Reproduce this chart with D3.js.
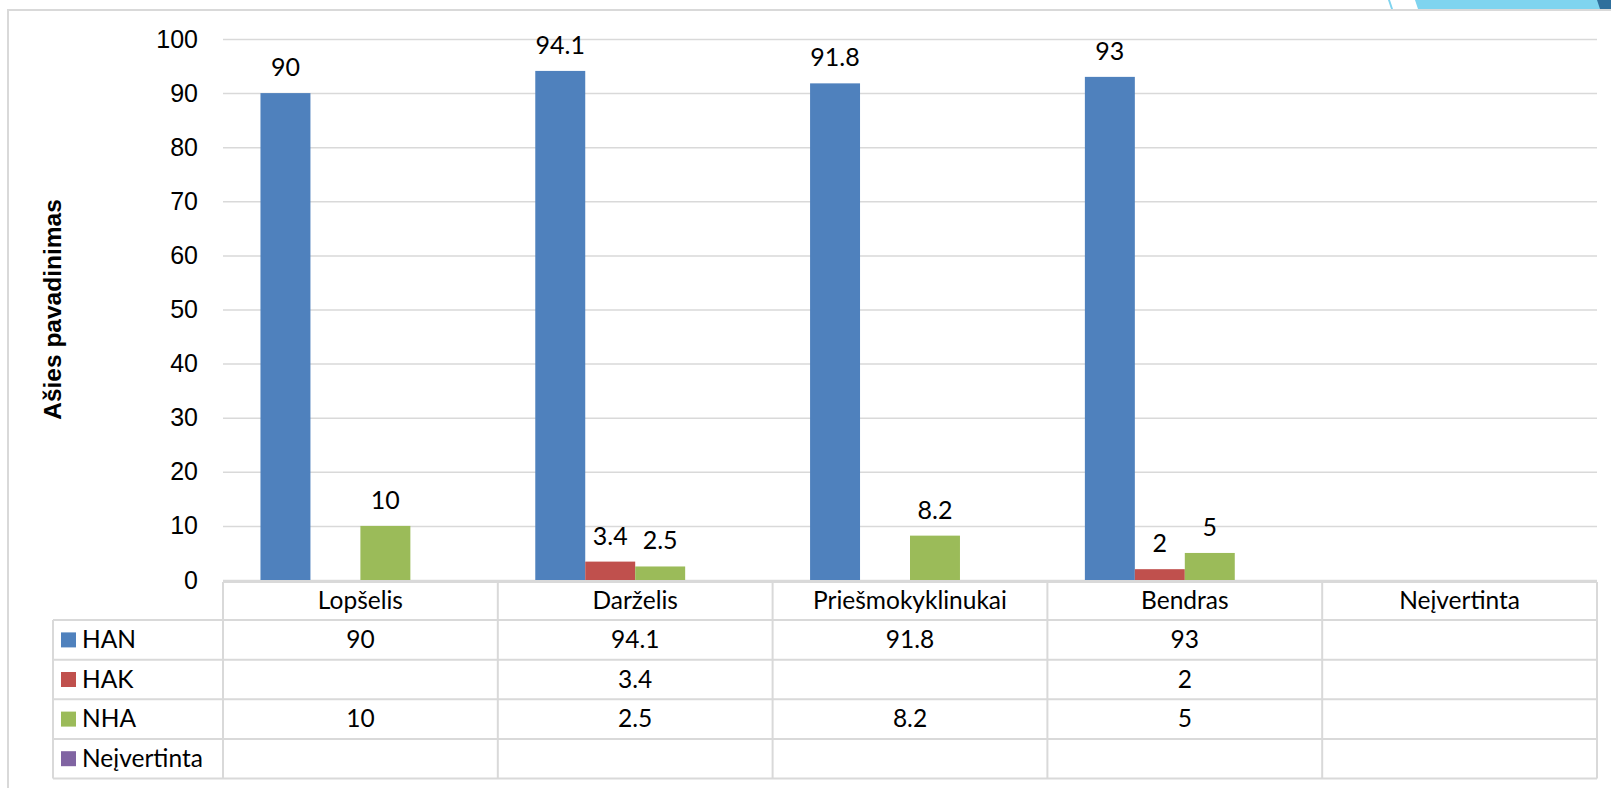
<!DOCTYPE html>
<html>
<head>
<meta charset="utf-8">
<script src="https://cdn.jsdelivr.net/npm/d3@7"></script>
<style>
  html, body { margin: 0; padding: 0; background: #fff; }
  svg { display: block; }
</style>
</head>
<body>
<div id="chart"></div>
<script>
// chart data
const categories = ['Lopšelis', 'Darželis', 'Priešmokyklinukai', 'Bendras', 'Neįvertinta'];
const seriesNames = ['HAN', 'HAK', 'NHA', 'Neįvertinta'];
const hanValues = [90, 94.1, 91.8, 93, null];
const hakValues = [null, 3.4, null, 2, null];
const nhaValues = [10, 2.5, 8.2, 5, null];
const neiValues = [null, null, null, null, null];
const yTicks = [0, 10, 20, 30, 40, 50, 60, 70, 80, 90, 100];
const axisTitle = 'Ašies pavadinimas';

const seriesValues = [hanValues, hakValues, nhaValues, neiValues];
const colors = ['#4f81bd', '#c0504d', '#9bbb59', '#8064a2'];

const W = 1611, H = 788;
const plotLeft = 223, plotRight = 1597;
const plotTop = 39, plotBottom = 580;
const legendLeft = 53;
const rowH = 39.6;
const gridColor = '#d9d9d9';
const labelFont = 'Lato, "Open Sans", sans-serif';
const tickFont = '"Liberation Sans", Arial, sans-serif';

const svg = d3.select('#chart').append('svg')
  .attr('width', W)
  .attr('height', H)
  .attr('viewBox', `0 0 ${W} ${H}`);

// decoration at the top right
svg.append('polygon')
  .attr('points', '1415,0 1611,0 1611,9 1418,9')
  .attr('fill', '#7fd4ef');
svg.append('polygon')
  .attr('points', '1597,0 1611,0 1611,9 1600,9')
  .attr('fill', '#2f6f9c');
svg.append('polygon')
  .attr('points', '1388,0 1390,0 1393,9 1391,9')
  .attr('fill', '#7fd4ef');

// outer frame
svg.append('line')
  .attr('x1', 7).attr('x2', W).attr('y1', 10).attr('y2', 10)
  .attr('stroke', gridColor).attr('stroke-width', 2);
svg.append('line')
  .attr('x1', 8).attr('x2', 8).attr('y1', 9).attr('y2', H)
  .attr('stroke', gridColor).attr('stroke-width', 2);

const x = d3.scaleBand()
  .domain(categories)
  .range([plotLeft, plotRight]);

const xSub = d3.scaleBand()
  .domain(seriesNames)
  .range([0, x.bandwidth()])
  .paddingOuter(0.75);

const y = d3.scaleLinear()
  .domain([0, 100])
  .range([plotBottom, plotTop]);

// gridlines + tick labels
const yAxis = d3.axisLeft(y)
  .tickValues(yTicks)
  .tickSize(-(plotRight - plotLeft))
  .tickPadding(25)
  .tickFormat(d3.format('d'));

const gAxis = svg.append('g')
  .attr('transform', `translate(${plotLeft},0)`)
  .call(yAxis);
gAxis.select('.domain').remove();
gAxis.selectAll('.tick line')
  .attr('stroke', gridColor)
  .attr('stroke-width', 1.5);
gAxis.selectAll('.tick text')
  .attr('font-family', tickFont)
  .attr('font-size', 25)
  .attr('fill', '#000');

// axis title
svg.append('text')
  .attr('transform', `translate(61,${(plotTop + plotBottom) / 2}) rotate(-90)`)
  .attr('text-anchor', 'middle')
  .attr('font-family', tickFont)
  .attr('font-weight', 'bold')
  .attr('font-size', 24.5)
  .attr('fill', '#000')
  .text(axisTitle);

// bars
const barData = [];
seriesNames.forEach((s, i) => {
  categories.forEach((c, j) => {
    const v = seriesValues[i][j];
    if (v != null) barData.push({ series: s, cat: c, value: v, color: colors[i] });
  });
});

svg.append('g').selectAll('rect')
  .data(barData)
  .join('rect')
  .attr('x', d => x(d.cat) + xSub(d.series))
  .attr('y', d => y(d.value))
  .attr('width', xSub.bandwidth())
  .attr('height', d => y(0) - y(d.value))
  .attr('fill', d => d.color);

// data labels
svg.append('g').selectAll('text')
  .data(barData)
  .join('text')
  .attr('x', d => x(d.cat) + xSub(d.series) + xSub.bandwidth() / 2)
  .attr('y', d => y(d.value) - 17)
  .attr('text-anchor', 'middle')
  .attr('font-family', labelFont)
  .attr('font-size', 25)
  .attr('fill', '#000')
  .text(d => d.value);

// data table
const table = svg.append('g');
const tableTop = plotBottom + 2;
const headerBottom = tableTop + rowH - 1.5;

function hline(x1, x2, yy) {
  table.append('line')
    .attr('x1', x1).attr('x2', x2).attr('y1', yy).attr('y2', yy)
    .attr('stroke', gridColor).attr('stroke-width', 2);
}
function vline(xx, y1, y2) {
  table.append('line')
    .attr('x1', xx).attr('x2', xx).attr('y1', y1).attr('y2', y2)
    .attr('stroke', gridColor).attr('stroke-width', 2);
}

const rowY = i => headerBottom + i * rowH;
const tableBottom = rowY(seriesNames.length);

hline(plotLeft, plotRight, tableTop);
hline(legendLeft, plotRight, headerBottom);
seriesNames.forEach((s, i) => hline(legendLeft, plotRight, rowY(i + 1)));
vline(legendLeft, headerBottom, tableBottom);
categories.forEach(c => vline(x(c), tableTop, tableBottom));
vline(plotRight, tableTop, tableBottom);

// header row
table.selectAll('text.cat')
  .data(categories)
  .join('text')
  .attr('class', 'cat')
  .attr('x', d => x(d) + x.bandwidth() / 2)
  .attr('y', (tableTop + headerBottom) / 2 + 8)
  .attr('text-anchor', 'middle')
  .attr('font-family', labelFont)
  .attr('font-size', 24.5)
  .attr('fill', '#000')
  .text(d => d);

// legend column
seriesNames.forEach((s, i) => {
  const cy = rowY(i) + rowH / 2;
  table.append('rect')
    .attr('x', 61).attr('y', cy - 7.5)
    .attr('width', 15).attr('height', 15)
    .attr('fill', colors[i]);
  table.append('text')
    .attr('x', 82)
    .attr('y', cy + 8)
    .attr('font-family', labelFont)
    .attr('font-size', 24.5)
    .attr('fill', '#000')
    .text(s);
  categories.forEach((c, j) => {
    const v = seriesValues[i][j];
    if (v == null) return;
    table.append('text')
      .attr('x', x(c) + x.bandwidth() / 2)
      .attr('y', cy + 8)
      .attr('text-anchor', 'middle')
      .attr('font-family', labelFont)
      .attr('font-size', 24.5)
      .attr('fill', '#000')
      .text(v);
  });
});
</script>
</body>
</html>
